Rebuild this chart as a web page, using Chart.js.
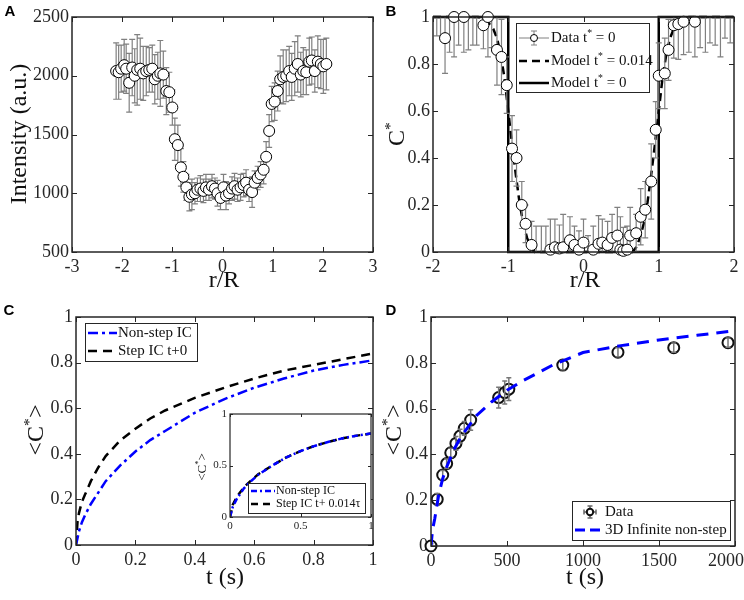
<!DOCTYPE html>
<html>
<head>
<meta charset="utf-8">
<script src="https://cdn.jsdelivr.net/npm/chart.js@4.4.1/dist/chart.umd.min.js"></script>
<style>
html, body { margin: 0; padding: 0; background: #fff; }
#wrap { position: relative; width: 744px; height: 600px; overflow: hidden; }
canvas { position: absolute; left: 0; top: 0; }
</style>
</head>
<body>
<div id="wrap">
  <canvas id="chartA" width="744" height="600"></canvas>
  <canvas id="chartB" width="744" height="600"></canvas>
  <canvas id="chartC" width="744" height="600"></canvas>
  <canvas id="chartInset" width="744" height="600"></canvas>
  <canvas id="chartD" width="744" height="600"></canvas>
</div>
<script>
// === DATA ===
// A: intensity profile
const rA = [-2.12, -2.07, -2.02, -1.96, -1.92, -1.86, -1.80, -1.75, -1.70, -1.64, -1.58, -1.52, -1.46, -1.40, -1.35,
  -1.29, -1.24, -1.18, -1.12, -1.06, -1.00, -0.95, -0.89, -0.83, -0.78, -0.72, -0.66, -0.61, -0.55, -0.50,
  -0.44, -0.38, -0.33, -0.27, -0.21, -0.15, -0.10, -0.04, 0.02, 0.07, 0.13, 0.19, 0.24, 0.30, 0.36,
  0.42, 0.47, 0.53, 0.59, 0.64, 0.70, 0.76, 0.82, 0.87, 0.93, 0.98, 1.04, 1.10, 1.15, 1.21,
  1.27, 1.33, 1.38, 1.44, 1.50, 1.56, 1.61, 1.67, 1.73, 1.78, 1.84, 1.90, 1.96, 2.01, 2.07];
const intensityA = [2040, 2030, 2060, 2090, 2060, 1940, 2070, 2000, 2050, 2060, 2020, 2040, 2050, 2060, 1970,
  2000, 2020, 2010, 1870, 1860, 1730, 1460, 1410, 1220, 1140, 1050, 970, 990, 1000, 1030,
  1040, 1020, 1050, 1030, 1060, 1040, 1000, 960, 1050, 980, 1000, 1040, 1060, 1030, 1050,
  1070, 1090, 1030, 1010, 1090, 1130, 1160, 1200, 1310, 1530, 1760, 1780, 1870, 1970, 1990,
  2000, 2040, 1990, 2060, 2100, 2010, 2040, 2030, 2120, 2130, 2040, 2120, 2100, 2080, 2100];
const errA = [240, 230, 200, 220, 210, 250, 240, 230, 300, 260, 230, 210, 190, 200, 210,
  200, 280, 200, 200, 170, 150, 180, 170, 160, 130, 110, 120, 130, 90, 100,
  110, 100, 110, 90, 100, 90, 110, 100, 110, 120, 90, 100, 110, 100, 110,
  100, 110, 100, 130, 100, 100, 110, 120, 130, 140, 150, 160, 170, 200, 230,
  220, 210, 200, 230, 240, 190, 200, 190, 200, 200, 180, 220, 210, 230, 220];

// B: normalised concentration
const rB = [-1.95, -1.90, -1.84, -1.78, -1.72, -1.66, -1.59, -1.53, -1.47, -1.42, -1.33, -1.27, -1.22, -1.15, -1.09,
  -1.02, -0.95, -0.89, -0.82, -0.77, -0.69, -0.63, -0.56, -0.50, -0.44, -0.38, -0.32, -0.27, -0.18, -0.12,
  -0.06, 0.00, 0.06, 0.13, 0.20, 0.25, 0.32, 0.38, 0.45, 0.49, 0.53, 0.58, 0.62, 0.70, 0.76,
  0.82, 0.90, 0.96, 1.00, 1.08, 1.13, 1.20, 1.26, 1.33, 1.40, 1.48, 1.55, 1.62, 1.68, 1.75,
  1.82, 1.88, 1.95];
const cB = [1.04, 1.02, 0.91, 1.05, 1.00, 1.03, 1.00, 1.06, 1.03, 1.04, 0.965, 1.00, 1.02, 0.86, 0.83,
  0.71, 0.44, 0.40, 0.20, 0.12, 0.03, -0.02, -0.01, -0.03, 0.01, 0.02, 0.015, 0.02, 0.05, 0.03,
  0.01, 0.04, -0.01, 0.01, 0.035, 0.04, 0.03, 0.06, 0.07, 0.01, 0.005, 0.01, 0.07, 0.08, 0.15,
  0.18, 0.30, 0.52, 0.75, 0.76, 0.86, 0.965, 0.97, 0.98, 1.03, 0.98, 1.03, 1.05, 1.02, 1.04,
  1.05, 1.03, 1.06];
const errB = [0.12, 0.10, 0.15, 0.20, 0.17, 0.15, 0.15, 0.20, 0.15, 0.16, 0.10, 0.17, 0.15, 0.15, 0.16,
  0.12, 0.14, 0.12, 0.10, 0.08, 0.10, 0.13, 0.12, 0.14, 0.13, 0.12, 0.10, 0.14, 0.10, 0.08,
  0.08, 0.10, 0.08, 0.10, 0.12, 0.10, 0.10, 0.10, 0.12, 0.14, 0.10, 0.10, 0.12, 0.08, 0.12,
  0.12, 0.16, 0.12, 0.14, 0.15, 0.13, 0.14, 0.15, 0.14, 0.18, 0.15, 0.16, 0.20, 0.13, 0.16,
  0.22, 0.12, 0.17];
const rModel = [-2, -1.4, -1.3, -1.2, -1.15, -1.1, -1.05, -1.0, -0.95, -0.9, -0.85, -0.8, -0.75, -0.7, -0.65,
  0.65, 0.7, 0.75, 0.8, 0.85, 0.9, 0.95, 1.0, 1.05, 1.1, 1.15, 1.2, 1.3, 1.4, 2];
const cModel014 = [1, 1, 0.99, 0.95, 0.91, 0.84, 0.74, 0.6, 0.46, 0.33, 0.21, 0.12, 0.06, 0.02, 0,
  0, 0.02, 0.06, 0.12, 0.21, 0.33, 0.46, 0.6, 0.74, 0.84, 0.91, 0.95, 0.99, 1, 1];
const rStep = [-2, -1, -1, 1, 1, 2];
const cStep = [1, 1, 0, 0, 1, 1];

// C: mean concentration vs time
const tC = [0, 0.005, 0.01, 0.02, 0.03, 0.05, 0.075, 0.1, 0.15, 0.2, 0.25, 0.3, 0.4, 0.5, 0.6, 0.7, 0.8, 0.9, 1.0];
const nonStepC = [0, 0.03, 0.06, 0.1, 0.13, 0.18, 0.23, 0.28, 0.35, 0.41, 0.46, 0.5, 0.58, 0.64, 0.69, 0.73, 0.765, 0.79, 0.81];
const stepC = [0, 0.1, 0.14, 0.19, 0.22, 0.28, 0.34, 0.39, 0.46, 0.51, 0.555, 0.59, 0.645, 0.69, 0.73, 0.765, 0.79, 0.815, 0.84];
// inset
const tIn = [0, 0.02, 0.05, 0.1, 0.15, 0.2, 0.3, 0.4, 0.5, 0.6, 0.7, 0.8, 0.9, 1.0];
const nonStepIn = [0, 0.1, 0.18, 0.28, 0.35, 0.41, 0.5, 0.58, 0.64, 0.69, 0.73, 0.765, 0.79, 0.81];
const stepIn = [0, 0.12, 0.2, 0.29, 0.355, 0.415, 0.5, 0.58, 0.64, 0.69, 0.73, 0.765, 0.79, 0.81];

// D: experiment vs model
const tD = [0, 41, 77, 103, 130, 164, 191, 219, 261, 445, 485, 512, 867, 1230, 1597, 1954];
const cD = [0, 0.204, 0.31, 0.36, 0.407, 0.448, 0.48, 0.514, 0.55, 0.648, 0.67, 0.685, 0.79, 0.846, 0.866, 0.888];
const errD = [0.01, 0.025, 0.02, 0.02, 0.02, 0.03, 0.03, 0.03, 0.045, 0.045, 0.05, 0.05, 0.02, 0.02, 0.02, 0.02];
const tModelD = [0, 10, 25, 50, 75, 100, 150, 200, 300, 400, 500, 600, 800, 1000, 1250, 1500, 1750, 2000];
const cModelD = [0, 0.07, 0.12, 0.22, 0.29, 0.34, 0.42, 0.48, 0.57, 0.63, 0.68, 0.72, 0.79, 0.845, 0.875, 0.9, 0.92, 0.94];

// === HELPERS ===
const SERIF = '"Liberation Serif", "Times New Roman", serif';
const SANS = '"Liberation Sans", Arial, sans-serif';
const INK = '#262626';

const pts = (xs, ys) => xs.map((x, i) => ({ x, y: ys[i] }));

function axis(min, max, step, size, isY, fontSize, pad, fmt) {
  return {
    type: 'linear', min, max,
    grid: { display: false, drawTicks: false },
    border: { display: false },
    ticks: {
      stepSize: step, autoSkip: false, maxRotation: 0, color: INK, padding: pad,
      font: { family: SERIF, size: fontSize },
      callback: fmt || (v => String(+v.toFixed(3)))
    },
    afterFit(s) {
      if (isY) s.width = size; else s.height = size;
      s.paddingLeft = 0; s.paddingRight = 0; s.paddingTop = 0; s.paddingBottom = 0;
    }
  };
}

// padding so the plot area lands on [l, t, r, b]
function place(l, t, r, b, yw, xh) {
  return { left: l - yw, top: t, right: 744 - r, bottom: 600 - b - xh };
}

function drawSegs(ctx, segs, x, y, size, opt = {}) {
  const fam = opt.family || SERIF, weight = opt.weight || 'normal';
  const f = s => `${weight} ${s}px ${fam}`;
  let w = 0;
  segs.forEach(([t, sup]) => { ctx.font = f(sup ? size * 0.65 : size); w += ctx.measureText(t).width; });
  let cx = opt.align === 'left' ? x : x - w / 2;
  ctx.textAlign = 'left';
  ctx.textBaseline = 'middle';
  ctx.fillStyle = opt.color || INK;
  segs.forEach(([t, sup]) => {
    ctx.font = f(sup ? size * 0.65 : size);
    ctx.fillText(t, cx, sup ? y - size * 0.3 : y);
    cx += ctx.measureText(t).width;
  });
}

// box + inward ticks on all four sides
const frameTicks = {
  id: 'frameTicks',
  beforeDraw(chart, args, o) {
    if (!o.fill) return;
    const a = chart.chartArea;
    chart.ctx.save();
    chart.ctx.fillStyle = '#fff';
    chart.ctx.fillRect(a.left, a.top, a.right - a.left, a.bottom - a.top);
    chart.ctx.restore();
  },
  afterDatasetsDraw(chart, args, o) {
    const { ctx, chartArea: a, scales } = chart;
    const len = o.len || 5;
    ctx.save();
    ctx.strokeStyle = INK;
    ctx.lineWidth = 1;
    ctx.beginPath();
    scales.x.ticks.forEach(t => {
      const p = Math.round(scales.x.getPixelForValue(t.value)) + 0.5;
      ctx.moveTo(p, a.bottom); ctx.lineTo(p, a.bottom - len);
      ctx.moveTo(p, a.top); ctx.lineTo(p, a.top + len);
    });
    scales.y.ticks.forEach(t => {
      const p = Math.round(scales.y.getPixelForValue(t.value)) + 0.5;
      ctx.moveTo(a.left, p); ctx.lineTo(a.left + len, p);
      ctx.moveTo(a.right, p); ctx.lineTo(a.right - len, p);
    });
    ctx.stroke();
    ctx.lineWidth = o.width || 1.5;
    ctx.strokeRect(a.left, a.top, a.right - a.left, a.bottom - a.top);
    ctx.restore();
  }
};

function drawErrors(chart, index, onTop) {
  const ds = chart.data.datasets[index];
  if (!ds.yErr || !!ds.errOnTop !== onTop) return;
  const { ctx, chartArea: a } = chart;
  const xs = chart.scales.x, ys = chart.scales.y;
  const cap = ds.errCap || 3;
  ctx.save();
  ctx.beginPath();
  ctx.rect(a.left, a.top, a.right - a.left, a.bottom - a.top);
  ctx.clip();
  ctx.strokeStyle = ds.errColor || '#808080';
  ctx.lineWidth = ds.errWidth || 1.2;
  ctx.beginPath();
  ds.data.forEach((p, k) => {
    const px = xs.getPixelForValue(p.x);
    const y1 = ys.getPixelForValue(p.y - ds.yErr[k]);
    const y2 = ys.getPixelForValue(p.y + ds.yErr[k]);
    ctx.moveTo(px, y1); ctx.lineTo(px, y2);
    ctx.moveTo(px - cap, y1); ctx.lineTo(px + cap, y1);
    ctx.moveTo(px - cap, y2); ctx.lineTo(px + cap, y2);
  });
  ctx.stroke();
  ctx.restore();
}

const errorBars = {
  id: 'errorBars',
  beforeDatasetDraw(chart, args) { drawErrors(chart, args.index, false); },
  afterDatasetDraw(chart, args) { drawErrors(chart, args.index, true); }
};

// MATLAB-style legend box
const boxLegend = {
  id: 'boxLegend',
  afterDraw(chart, args, o) {
    if (!o.box) return;
    const ctx = chart.ctx;
    const [x1, y1, x2, y2] = o.box;
    ctx.save();
    ctx.fillStyle = '#fff';
    ctx.fillRect(x1, y1, x2 - x1, y2 - y1);
    ctx.strokeStyle = INK;
    ctx.lineWidth = 1;
    ctx.strokeRect(x1 + 0.5, y1 + 0.5, x2 - x1, y2 - y1);
    o.items.forEach(it => {
      const [sx1, sx2] = o.sample;
      const mid = (sx1 + sx2) / 2;
      ctx.save();
      if (it.kind === 'line') {
        ctx.strokeStyle = it.color;
        ctx.lineWidth = it.width;
        ctx.setLineDash(it.dash || []);
        ctx.beginPath(); ctx.moveTo(sx1, it.y); ctx.lineTo(sx2, it.y); ctx.stroke();
      } else if (it.kind === 'errLine') {
        ctx.strokeStyle = '#808080'; ctx.lineWidth = 1;
        ctx.beginPath();
        ctx.moveTo(sx1, it.y); ctx.lineTo(sx2, it.y);
        ctx.moveTo(mid, it.y - 7); ctx.lineTo(mid, it.y + 7);
        ctx.moveTo(mid - 3, it.y - 7); ctx.lineTo(mid + 3, it.y - 7);
        ctx.moveTo(mid - 3, it.y + 7); ctx.lineTo(mid + 3, it.y + 7);
        ctx.stroke();
        ctx.fillStyle = '#fff'; ctx.strokeStyle = '#000';
        ctx.beginPath(); ctx.arc(mid, it.y, 3.5, 0, Math.PI * 2); ctx.fill(); ctx.stroke();
      } else if (it.kind === 'errRing') {
        const cx = it.x;
        ctx.strokeStyle = '#666'; ctx.lineWidth = 1.5;
        ctx.beginPath();
        ctx.moveTo(cx, it.y - 6); ctx.lineTo(cx, it.y + 6);
        ctx.moveTo(cx - 2.5, it.y - 6); ctx.lineTo(cx + 2.5, it.y - 6);
        ctx.moveTo(cx - 2.5, it.y + 6); ctx.lineTo(cx + 2.5, it.y + 6);
        ctx.moveTo(cx - 6, it.y); ctx.lineTo(cx + 6, it.y);
        ctx.moveTo(cx - 6, it.y - 2.5); ctx.lineTo(cx - 6, it.y + 2.5);
        ctx.moveTo(cx + 6, it.y - 2.5); ctx.lineTo(cx + 6, it.y + 2.5);
        ctx.stroke();
        ctx.fillStyle = '#fff'; ctx.strokeStyle = '#111'; ctx.lineWidth = 2;
        ctx.beginPath(); ctx.arc(cx, it.y, 3.2, 0, Math.PI * 2); ctx.fill(); ctx.stroke();
      }
      ctx.restore();
      drawSegs(ctx, it.text, o.textX, it.y, o.size, { align: 'left', color: '#111' });
    });
    ctx.restore();
  }
};

// axis titles and panel letters
const freeText = {
  id: 'freeText',
  afterDraw(chart, args, o) {
    if (!o.items) return;
    const ctx = chart.ctx;
    o.items.forEach(it => {
      ctx.save();
      ctx.translate(it.x, it.y);
      if (it.rotate) ctx.rotate(-Math.PI / 2);
      drawSegs(ctx, it.segs, 0, 0, it.size, { family: it.family, weight: it.weight, color: it.color || '#111' });
      ctx.restore();
    });
  }
};

Chart.register(frameTicks, errorBars, boxLegend, freeText);

function baseOptions(padding, scales, plugins) {
  return {
    responsive: false,
    animation: false,
    events: [],
    layout: { padding },
    scales,
    plugins: Object.assign({ legend: { display: false }, tooltip: { enabled: false } }, plugins)
  };
}

const markerStyle = {
  pointRadius: 5.5, pointBackgroundColor: '#fff', pointBorderColor: '#000', pointBorderWidth: 1,
  showLine: false, clip: false
};

// === PANEL A ===
new Chart(document.getElementById('chartA'), {
  type: 'scatter',
  data: {
    datasets: [Object.assign({
      data: pts(rA, intensityA), yErr: errA, errCap: 3
    }, markerStyle)]
  },
  options: baseOptions(place(72, 17, 373, 252, 60, 30), {
    x: axis(-3, 3, 1, 30, false, 18, 4),
    y: axis(500, 2500, 500, 60, true, 18, 3)
  }, {
    freeText: { items: [
      { segs: [['A']], x: 10, y: 12, size: 15, family: SANS, weight: 'bold', color: '#000' },
      { segs: [['Intensity (a.u.)']], x: 20, y: 134, size: 24, rotate: true },
      { segs: [['r/R']], x: 224, y: 281, size: 24 }
    ] }
  })
});

// === PANEL B ===
new Chart(document.getElementById('chartB'), {
  type: 'scatter',
  data: {
    datasets: [
      Object.assign({}, markerStyle, {
        data: pts(rB, cB), yErr: errB, errCap: 3,
        pointRadius: c => (c.raw && (c.raw.y > 1 || c.raw.y < 0)) ? 0 : 5.5
      }),
      { data: pts(rModel, cModel014), showLine: true, pointRadius: 0, borderColor: '#000',
        borderWidth: 2.5, borderDash: [8, 5], clip: false },
      { data: pts(rStep, cStep), showLine: true, pointRadius: 0, borderColor: '#000',
        borderWidth: 2.5, clip: false }
    ]
  },
  options: baseOptions(place(433, 17, 734, 252, 50, 30), {
    x: axis(-2, 2, 1, 30, false, 18, 4),
    y: axis(0, 1, 0.2, 50, true, 18, 3)
  }, {
    boxLegend: {
      box: [516, 23, 649, 92], sample: [519, 549], textX: 551, size: 15,
      items: [
        { kind: 'errLine', y: 38, text: [['Data t'], ['*', 1], [' = 0']] },
        { kind: 'line', y: 61, color: '#000', width: 2.5, dash: [8, 5], text: [['Model t'], ['*', 1], [' = 0.014']] },
        { kind: 'line', y: 83, color: '#000', width: 2.5, text: [['Model t'], ['*', 1], [' = 0']] }
      ]
    },
    freeText: { items: [
      { segs: [['B']], x: 391, y: 12, size: 15, family: SANS, weight: 'bold', color: '#000' },
      { segs: [['C'], ['*', 1]], x: 398, y: 134, size: 24, rotate: true },
      { segs: [['r/R']], x: 585, y: 281, size: 24 }
    ] }
  })
});

// === PANEL C ===
new Chart(document.getElementById('chartC'), {
  type: 'scatter',
  data: {
    datasets: [
      { data: pts(tC, nonStepC), showLine: true, pointRadius: 0, borderColor: '#0000ff',
        borderWidth: 2.5, borderDash: [10, 4, 3, 4] },
      { data: pts(tC, stepC), showLine: true, pointRadius: 0, borderColor: '#000',
        borderWidth: 2.5, borderDash: [9, 6] }
    ]
  },
  options: baseOptions(place(76, 317, 373, 545, 50, 30), {
    x: axis(0, 1, 0.2, 30, false, 18, 4),
    y: axis(0, 1, 0.2, 50, true, 18, 3)
  }, {
    boxLegend: {
      box: [85, 323, 197, 361], sample: [88, 117], textX: 118, size: 15,
      items: [
        { kind: 'line', y: 333, color: '#0000ff', width: 2.5, dash: [10, 4, 3, 4], text: [['Non-step IC']] },
        { kind: 'line', y: 351, color: '#000', width: 2.5, dash: [9, 6], text: [['Step IC t+0']] }
      ]
    },
    freeText: { items: [
      { segs: [['C']], x: 9, y: 311, size: 15, family: SANS, weight: 'bold', color: '#000' },
      { segs: [['<C'], ['*', 1], ['>']], x: 37, y: 430, size: 24, rotate: true },
      { segs: [['t (s)']], x: 225, y: 578, size: 24 }
    ] }
  })
});

// === INSET ===
new Chart(document.getElementById('chartInset'), {
  type: 'scatter',
  data: {
    datasets: [
      { data: pts(tIn, nonStepIn), showLine: true, pointRadius: 0, borderColor: '#0000ff',
        borderWidth: 2.5, borderDash: [6, 3, 2, 3] },
      { data: pts(tIn, stepIn), showLine: true, pointRadius: 0, borderColor: '#000',
        borderWidth: 2.5, borderDash: [7, 5] }
    ]
  },
  options: baseOptions(place(230, 414, 371, 517, 20, 16), {
    x: axis(0, 1, 0.5, 16, false, 11, 3),
    y: axis(0, 1, 0.5, 20, true, 11, 3)
  }, {
    frameTicks: { fill: true, len: 3, width: 1.2 },
    boxLegend: {
      box: [248, 483, 365, 513], sample: [251, 275], textX: 276, size: 12,
      items: [
        { kind: 'line', y: 491, color: '#0000ff', width: 2.5, dash: [6, 3, 2, 3], text: [['Non-step IC']] },
        { kind: 'line', y: 504, color: '#000', width: 2.5, dash: [7, 5], text: [['Step IC t+ 0.014\u03c4']] }
      ]
    },
    freeText: { items: [
      { segs: [['<C'], ['*', 1], ['>']], x: 203, y: 467, size: 13, rotate: true }
    ] }
  })
});

// === PANEL D ===
// last x label is nudged left so it stays inside the page, as in the figure
const fmtD = v => v === 2000 ? '2000\u2003' : String(v);
new Chart(document.getElementById('chartD'), {
  type: 'scatter',
  data: {
    datasets: [
      { data: pts(tModelD, cModelD), showLine: true, pointRadius: 0, borderColor: '#0000ff',
        borderWidth: 3, borderDash: [12, 8] },
      { data: pts(tD, cD), yErr: errD, errCap: 2.5, errOnTop: true, errColor: '#777', errWidth: 1.5,
        pointRadius: 5.5, pointBackgroundColor: '#fff', pointBorderColor: '#111', pointBorderWidth: 2,
        showLine: false, clip: false }
    ]
  },
  options: baseOptions(place(431, 317, 735, 546, 50, 30), {
    x: axis(0, 2000, 500, 30, false, 18, 4, fmtD),
    y: axis(0, 1, 0.2, 50, true, 18, 3)
  }, {
    boxLegend: {
      box: [572, 501, 730, 540], sample: [575, 604], textX: 605, size: 15,
      items: [
        { kind: 'errRing', x: 590, y: 512, text: [['Data']] },
        { kind: 'line', y: 530, color: '#0000ff', width: 3, dash: [10, 5], text: [['3D Infinite non-step']] }
      ]
    },
    freeText: { items: [
      { segs: [['D']], x: 391, y: 311, size: 15, family: SANS, weight: 'bold', color: '#000' },
      { segs: [['<C'], ['*', 1], ['>']], x: 395, y: 430, size: 24, rotate: true },
      { segs: [['t (s)']], x: 585, y: 578, size: 24 }
    ] }
  })
});
</script>
</body>
</html>
